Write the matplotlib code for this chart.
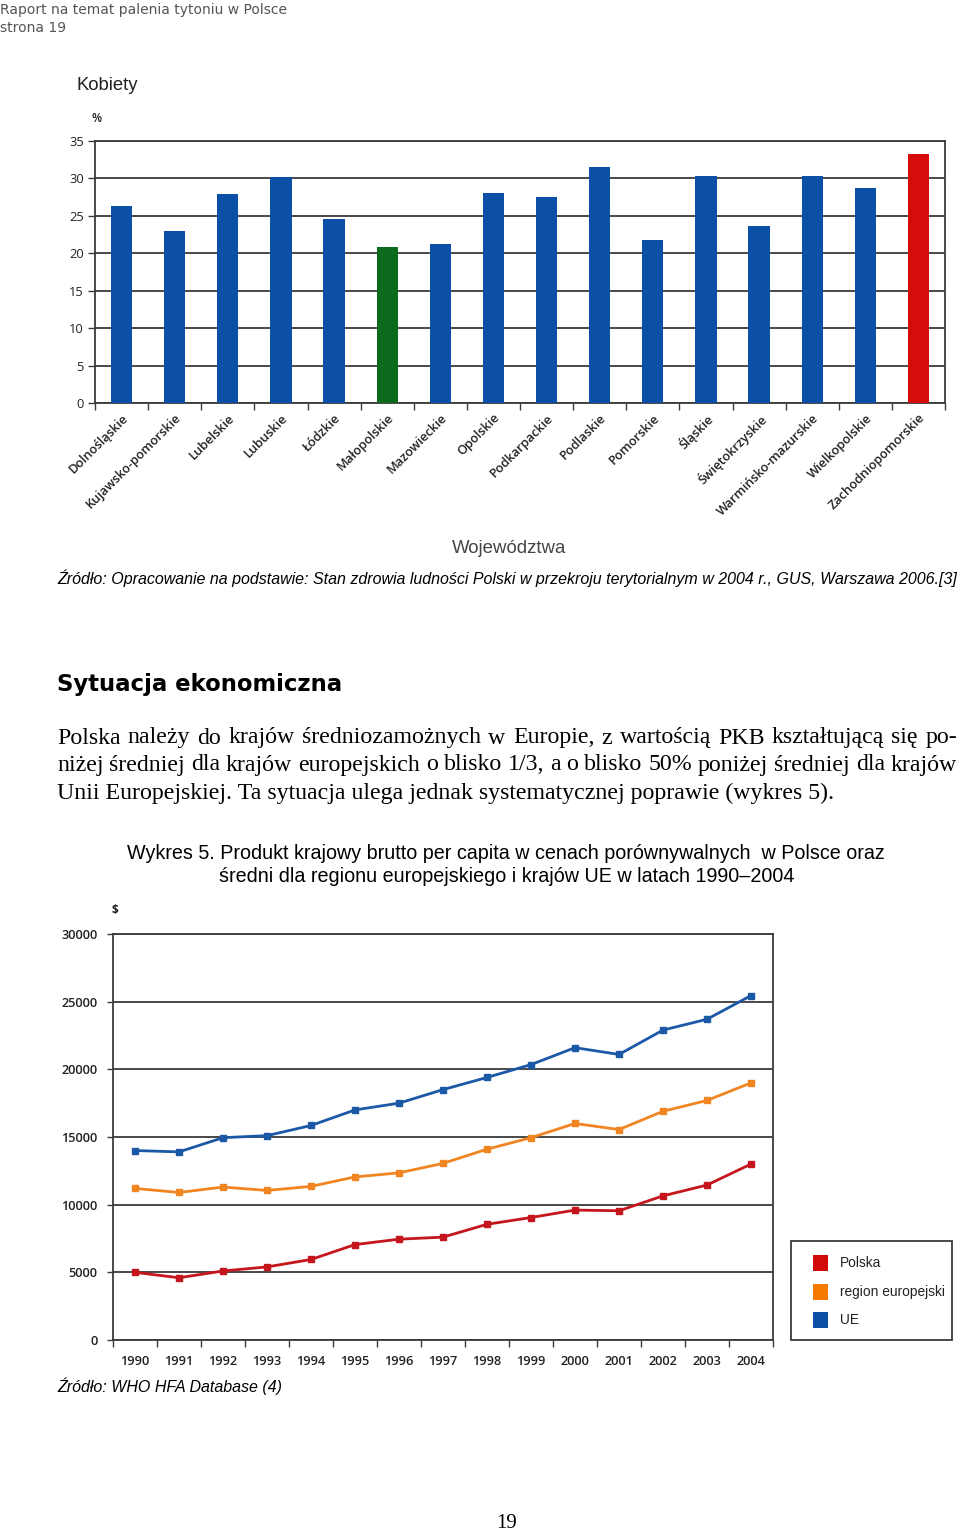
import matplotlib
matplotlib.use("Agg")
import matplotlib.pyplot as plt
from matplotlib.patches import Rectangle
import numpy as np

W, H = 960, 1535

# ---------------- data ----------------
regions = ["Dolnośląskie", "Kujawsko-pomorskie", "Lubelskie", "Lubuskie", "Łódzkie",
           "Małopolskie", "Mazowieckie", "Opolskie", "Podkarpackie", "Podlaskie",
           "Pomorskie", "Śląskie", "Świętokrzyskie", "Warmińsko-mazurskie",
           "Wielkopolskie", "Zachodniopomorskie"]
women_pct = [26.3, 23.0, 27.9, 30.2, 24.6, 20.9, 21.2, 28.1, 27.5, 31.5,
             21.8, 30.3, 23.6, 30.3, 28.7, 33.2]
bar_yticks = [0, 5, 10, 15, 20, 25, 30, 35]

years = [1990, 1991, 1992, 1993, 1994, 1995, 1996, 1997, 1998, 1999,
         2000, 2001, 2002, 2003, 2004]
gdp_ue = [14000, 13900, 14950, 15100, 15850, 17000, 17500, 18500, 19400, 20350,
          21600, 21100, 22900, 23700, 25450]
gdp_region = [11200, 10900, 11300, 11050, 11350, 12050, 12350, 13050, 14100, 14950,
              16000, 15550, 16900, 17700, 19000]
gdp_polska = [5000, 4600, 5100, 5400, 5950, 7050, 7450, 7600, 8550, 9050,
              9600, 9550, 10650, 11450, 13000]
series_names = ["Polska", "region europejski", "UE"]
gdp_yticks = [0, 5000, 10000, 15000, 20000, 25000, 30000]

# ---------------- styles ----------------
BLUE = "#0b4fa6"
GREEN = "#0c6a1d"
RED_BAR = "#d60b0b"
C_UE = "#1b58a5"
C_REG = "#f08522"
C_PL = "#c4161c"
L_PL, L_REG, L_UE = "#d10a0a", "#f77a00", "#0b4ea3"
GRID = "#3a3a3a"

fig = plt.figure(figsize=(W / 100, H / 100), dpi=100)
fig.patch.set_facecolor("white")


def fx(x):
    return x / W


def fy(y):
    return 1 - y / H


def px_axes(l, t, r, b):
    return fig.add_axes([l / W, 1 - b / H, (r - l) / W, (b - t) / H])


def txt(x, y, s, **kw):
    kw.setdefault("va", "center")
    return fig.text(fx(x), fy(y), s, **kw)


# ---------------- header ----------------
txt(0, 10, "Raport na temat palenia tytoniu w Polsce", color="#555555",
    fontsize=10, family="DejaVu Sans")
txt(0, 28, "strona 19", color="#555555", fontsize=10, family="DejaVu Sans")

# ---------------- bar chart ----------------
txt(77, 85, "Kobiety", fontsize=13.3, family="Liberation Sans", color="#222222")
txt(92, 118, "%", fontsize=8.5, family="Open Sans", color="#222222", weight="semibold")

ax1 = px_axes(95, 141, 945, 403)
xpos = np.arange(len(regions))
colors = [BLUE] * len(regions)
colors[regions.index("Małopolskie")] = GREEN
colors[regions.index("Zachodniopomorskie")] = RED_BAR
ax1.bar(xpos, women_pct, width=0.4, color=colors, zorder=3)
ax1.set_xlim(-0.5, len(regions) - 0.5)
ax1.set_ylim(0, 35)
ax1.set_yticks(bar_yticks)
ax1.set_yticklabels([str(v) for v in bar_yticks], family="Open Sans",
                    fontsize=9.3, color="#222222")
for v in bar_yticks:
    ax1.axhline(v, color=GRID, lw=1.3, zorder=1)
ax1.set_xticks(xpos)
ax1.set_xticklabels(regions, rotation=45, ha="right", rotation_mode="anchor",
                    family="Open Sans", weight="semibold", fontsize=9.2, color="#222222")
ax1.set_xticks(np.arange(-0.5, len(regions), 1.0), minor=True)
ax1.tick_params(axis="x", which="major", length=0, pad=6)
ax1.tick_params(axis="x", which="minor", length=5, width=1, color=GRID)
ax1.tick_params(axis="y", length=5, width=1, color=GRID, pad=3)
for s in ax1.spines.values():
    s.set_color(GRID)
    s.set_linewidth(1.3)

txt(509, 548, "Województwa", fontsize=13.4, family="Liberation Sans", color="#444444",
    ha="center")
txt(57, 578, "Źródło: Opracowanie na podstawie: Stan zdrowia ludności Polski w przekroju "
             "terytorialnym w 2004 r., GUS, Warszawa 2006.[3]",
    fontsize=11.5, family="Liberation Sans", style="italic", color="black")

# ---------------- text section ----------------
txt(57, 685, "Sytuacja ekonomiczna", fontsize=16.4, family="DejaVu Sans",
    weight="bold", color="black")

renderer = fig.canvas.get_renderer()


def justify(line, x0, x1, y, **kw):
    words = line.split()
    ts = [fig.text(0, fy(y), w, va="center", **kw) for w in words]
    widths = [t.get_window_extent(renderer).width for t in ts]
    gap = (x1 - x0 - sum(widths)) / (len(words) - 1)
    x = x0
    for t, w in zip(ts, widths):
        t.set_x(fx(x))
        x += w + gap


para_kw = dict(fontsize=17.2, family="Liberation Serif", color="black")
justify("Polska należy do krajów średniozamożnych w Europie, z wartością PKB "
        "kształtującą się po-", 57, 957, 738, **para_kw)
justify("niżej średniej dla krajów europejskich o blisko 1/3, a o blisko 50% "
        "poniżej średniej dla krajów", 57, 957, 765, **para_kw)
txt(57, 793, "Unii Europejskiej. Ta sytuacja ulega jednak systematycznej poprawie "
             "(wykres 5).", **para_kw)

title_kw = dict(fontsize=14.2, family="Liberation Sans", color="black")
txt(127, 853, "Wykres 5. Produkt krajowy brutto per capita w cenach porównywalnych  "
              "w Polsce oraz", **title_kw)
txt(219, 877, "średni dla regionu europejskiego i krajów UE w latach 1990–2004",
    **title_kw)

# ---------------- line chart ----------------
txt(112, 910, "$", fontsize=8.5, family="Open Sans", weight="bold", color="#222222")
ax2 = px_axes(113, 934, 773, 1340)
ax2.plot(years, gdp_ue, color=C_UE, lw=2, marker="s", ms=5, zorder=3)
ax2.plot(years, gdp_region, color=C_REG, lw=2, marker="s", ms=5, zorder=3)
ax2.plot(years, gdp_polska, color=C_PL, lw=2, marker="s", ms=5, zorder=3)
ax2.set_xlim(years[0] - 0.5, years[-1] + 0.5)
ax2.set_ylim(0, 30000)
ax2.set_yticks(gdp_yticks)
ax2.set_yticklabels([str(v) for v in gdp_yticks], family="Open Sans",
                    weight="semibold", fontsize=9.2, color="#222222")
for v in gdp_yticks:
    ax2.axhline(v, color=GRID, lw=1.3, zorder=1)
ax2.set_xticks(years)
ax2.set_xticklabels([str(y) for y in years], family="Open Sans", weight="semibold",
                    fontsize=9.2, color="#222222")
ax2.set_xticks(np.arange(years[0] - 0.5, years[-1] + 1, 1.0), minor=True)
ax2.tick_params(axis="x", which="major", length=0, pad=11)
ax2.tick_params(axis="x", which="minor", length=5, width=1, color=GRID)
ax2.tick_params(axis="y", length=4, width=1, color=GRID, pad=7)
for s in ax2.spines.values():
    s.set_color(GRID)
    s.set_linewidth(1.3)

# legend box
legend_kw = dict(fontsize=9.9, family="Liberation Sans", color="#222222")
fig.patches.append(Rectangle((fx(791), fy(1340)), (952 - 791) / W, (1340 - 1241) / H,
                             transform=fig.transFigure, facecolor="white",
                             edgecolor=GRID, lw=1.3))
for name, col, yy in zip(series_names, [L_PL, L_REG, L_UE], [1263, 1292, 1320]):
    fig.patches.append(Rectangle((fx(813), fy(yy + 8)), 15 / W, 16 / H,
                                 transform=fig.transFigure, facecolor=col,
                                 edgecolor="none"))
    txt(840, yy, name, **legend_kw)

txt(57, 1386, "Źródło: WHO HFA Database (4)", fontsize=11.5,
    family="Liberation Sans", style="italic", color="black")

txt(507, 1523, "19", fontsize=15, family="Liberation Serif", color="black", ha="center")

fig.savefig("out.png", dpi=100, facecolor="white")
